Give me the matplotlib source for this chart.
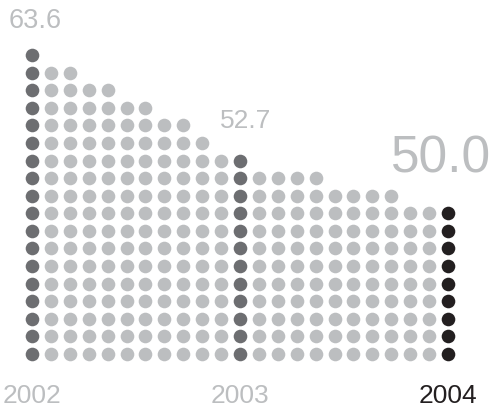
import numpy as np
import matplotlib.pyplot as plt

plt.rcParams['font.family'] = ['Liberation Sans', 'DejaVu Sans']

# dots per column, one column per period
heights = [18, 17, 17, 16, 16, 15, 15, 14, 14, 13, 12, 12, 11, 11, 11, 11, 10, 10, 10, 10, 9, 9, 9]
year_cols = [0, 11, 22]
years = ['2002', '2003', '2004']
values = ['63.6', '52.7', '50.0']

light = '#bcbec0'
dark = '#6d6e71'
black = '#231f20'

fig = plt.figure(figsize=(4.96, 4.07), dpi=100)
ax = fig.add_axes([0, 0, 1, 1])

for i, h in enumerate(heights):
    if i == 22:
        c = black
    elif i in year_cols:
        c = dark
    else:
        c = light
    ax.scatter(np.full(h, i), np.arange(h), s=96, color=c, linewidths=0)

# value labels above year columns
val_sizes = [19.5, 19, 37]
val_offsets = [(2, 19.4), (4, 23.4), (-5, 29.5)]
for col, v, fs, off in zip(year_cols, values, val_sizes, val_offsets):
    ax.annotate(v, xy=(col, heights[col] - 1), xytext=off, textcoords='offset points',
                ha='center', va='baseline', fontsize=fs, color=light)

# year labels under the columns
for col, y in zip(year_cols, years):
    ax.annotate(y, xy=(col, 0), xytext=(0, -35.3), textcoords='offset points',
                ha='center', va='baseline', fontsize=19,
                color=black if y == '2004' else light)

sx = 18.909
sy = 17.59
ax.set_xlim(-32 / sx, (496 - 32) / sx)
ax.set_ylim(-53 / sy, 354 / sy)
ax.axis('off')

plt.savefig('out.png', dpi=100)
